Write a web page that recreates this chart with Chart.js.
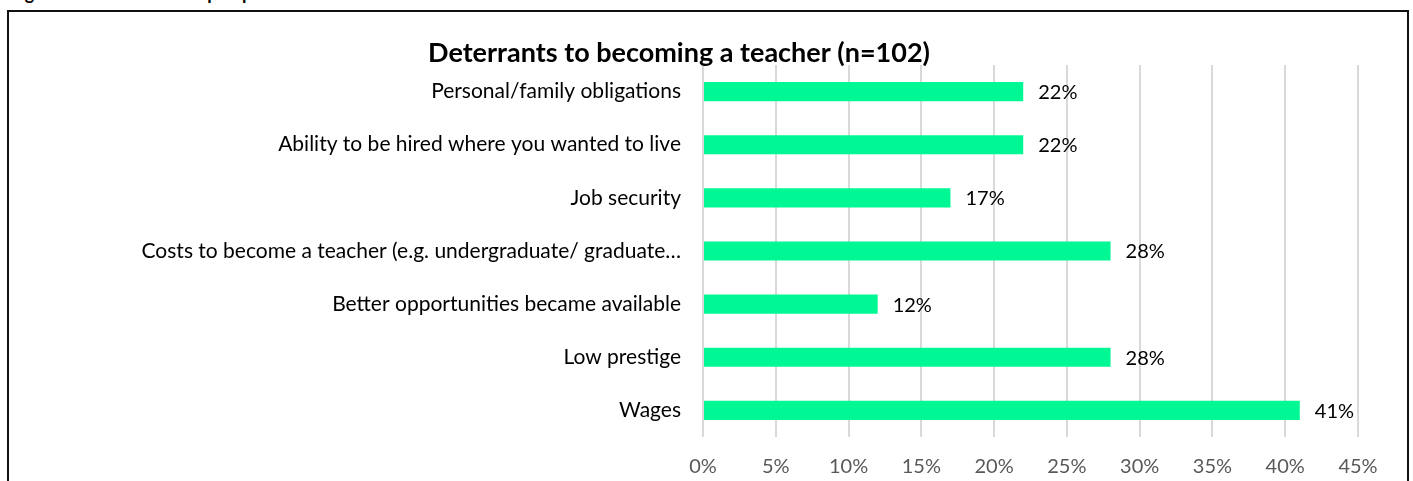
<!DOCTYPE html>
<html>
<head>
<meta charset="utf-8">
<script src="https://cdn.jsdelivr.net/npm/chart.js@4"></script>
<style>
  html, body { margin: 0; padding: 0; background: #fff; }
  body { width: 1413px; height: 481px; overflow: hidden; position: relative; }
  #caption {
    position: absolute; left: 10px; top: -18px;
    font: bold 18px Lato, sans-serif; color: #000; white-space: nowrap;
  }
  #frame {
    position: absolute; left: 7px; top: 10px; width: 1398px; height: 600px;
    border: 2px solid #111;
  }
  #wrap { position: absolute; left: 0; top: 0; width: 1413px; height: 481px; }
</style>
</head>
<body>
<div id="caption">Figure 12: Deterrents to prospective teachers who did not become teachers</div>
<div id="frame"></div>
<div id="wrap"><canvas id="chart"></canvas></div>
<script>
const categories = [
  'Personal/family obligations',
  'Ability to be hired where you wanted to live',
  'Job security',
  'Costs to become a teacher (e.g. undergraduate/ graduate…',
  'Better opportunities became available',
  'Low prestige',
  'Wages',
];
const percentValues = [22, 22, 17, 28, 12, 28, 41];
const xTicks = [0, 5, 10, 15, 20, 25, 30, 35, 40, 45];
const chartTitle = 'Deterrants to becoming a teacher (n=102)';

const FONT = 'Lato, sans-serif';

const barLabels = {
  id: 'barLabels',
  afterDatasetsDraw(chart) {
    const { ctx } = chart;
    const meta = chart.getDatasetMeta(0);
    ctx.save();
    ctx.font = '20px ' + FONT;
    ctx.fillStyle = '#000';
    ctx.textAlign = 'left';
    ctx.textBaseline = 'middle';
    meta.data.forEach((bar, i) => {
      ctx.fillText(percentValues[i] + '%', bar.x + 15, bar.y + 1);
    });
    ctx.restore();
  },
};

new Chart(document.getElementById('chart'), {
  type: 'bar',
  data: {
    labels: categories,
    datasets: [
      {
        data: percentValues,
        backgroundColor: '#00F894',
        borderWidth: 0,
        barPercentage: 0.72,
        categoryPercentage: 0.5,
      },
    ],
  },
  options: {
    indexAxis: 'y',
    responsive: true,
    maintainAspectRatio: false,
    animation: false,
    layout: { padding: { left: 0, right: 55, top: 0, bottom: 2 } },
    scales: {
      x: {
        min: 0,
        max: 45,
        afterBuildTicks(scale) {
          scale.ticks = xTicks.map((v) => ({ value: v }));
        },
        afterFit(scale) {
          scale.height = 42;
        },
        ticks: {
          callback: (v) => v + '%',
          color: '#595959',
          font: { family: FONT, size: 20 },
          padding: 18,
          maxRotation: 0,
        },
        grid: { color: '#d9d9d9', lineWidth: 2, drawTicks: false },
        border: { display: false },
      },
      y: {
        afterFit(scale) {
          scale.width = 703;
        },
        ticks: {
          color: '#000',
          font: { family: FONT, size: 21 },
          padding: 22,
        },
        grid: { display: false, drawTicks: false },
        border: { display: false },
      },
    },
    plugins: {
      legend: { display: false },
      tooltip: { enabled: false },
      title: {
        display: true,
        text: chartTitle,
        color: '#000',
        font: { family: FONT, size: 27, weight: 'bold', lineHeight: 1.0 },
        padding: { top: 40, bottom: -2 },
      },
    },
  },
  plugins: [barLabels],
});
</script>
</body>
</html>
